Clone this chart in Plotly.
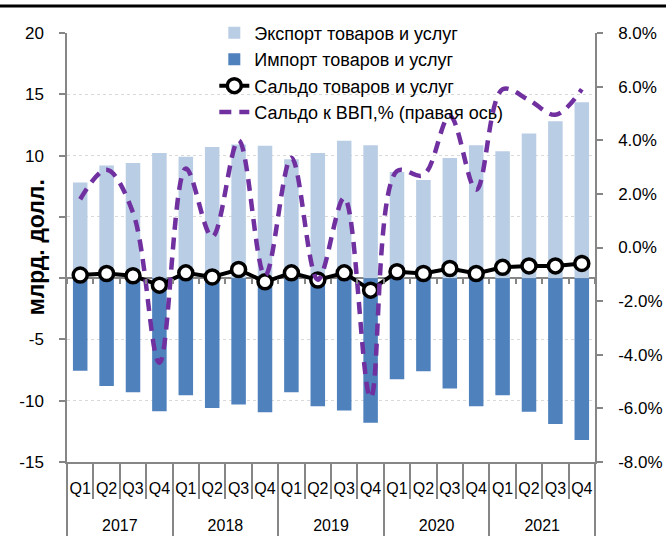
import plotly.graph_objects as go

years = ["2017", "2018", "2019", "2020", "2021"]
quarters = ["Q1", "Q2", "Q3", "Q4"]

export_vals = [7.8, 9.2, 9.4, 10.2, 9.9, 10.7, 10.9, 10.8, 9.7, 10.2, 11.2, 10.85,
               8.65, 8.0, 9.8, 10.85, 10.35, 11.8, 12.8, 14.35]
import_vals = [-7.55, -8.8, -9.3, -10.85, -9.55, -10.6, -10.3, -10.95, -9.3, -10.45, -10.8, -11.8,
               -8.25, -7.6, -9.0, -10.45, -9.55, -10.9, -11.9, -13.2]
balance_vals = [0.25, 0.38, 0.19, -0.57, 0.43, 0.1, 0.7, -0.3, 0.43, -0.15, 0.43, -0.98,
                0.52, 0.38, 0.79, 0.38, 0.88, 1.0, 1.0, 1.2]
balance_gdp_pct = [1.8, 2.9, 1.3, -4.3, 2.95, 0.4, 4.0, -1.05, 3.35, -1.2, 1.85, -5.6,
                   2.85, 2.7, 4.9, 2.15, 5.9, 5.5, 4.95, 5.9]

left_ticks = [20, 15, 10, 5, 0, -5, -10, -15]
left_ticktext = ["20", "15", "10", "5", "0", "-5", "-10", "-15"]
right_ticks = [8, 6, 4, 2, 0, -2, -4, -6, -8]
right_ticktext = ["8.0%", "6.0%", "4.0%", "2.0%", "0.0%", "-2.0%", "-4.0%", "-6.0%", "-8.0%"]

names = ["Экспорт товаров и услуг", "Импорт товаров и услуг",
         "Сальдо товаров и услуг", "Сальдо к ВВП,% (правая ось)"]

# category keys and label levels
x_keys = [f"{q} {y}" for y in years for q in quarters]
x_q = [q for _ in years for q in quarters]
nq = len(quarters)
n = len(x_keys)
boundaries = [i - 0.5 for i in range(n + 1)]
year_centers = [i * nq + (nq - 1) / 2 for i in range(len(years))]
year_bounds = [i * nq - 0.5 for i in range(len(years) + 1)]

FONT = "Liberation Sans, Arial, sans-serif"
AX = "#868686"
CLEAR = "rgba(0,0,0,0)"

fig = go.Figure()
fig.add_trace(go.Bar(x=x_keys, y=export_vals, name=names[0], marker_color="#B9CDE5",
                     width=0.55, marker_line_width=0))
fig.add_trace(go.Bar(x=x_keys, y=import_vals, name=names[1], marker_color="#4F81BD",
                     width=0.55, marker_line_width=0))
fig.add_trace(go.Scatter(x=x_keys, y=balance_vals, name=names[2], mode="lines+markers",
                         line=dict(color="black", width=4),
                         marker=dict(symbol="circle", size=14, color="white",
                                     line=dict(color="black", width=3.5))))
fig.add_trace(go.Scatter(x=x_keys, y=balance_gdp_pct, name=names[3], mode="lines", yaxis="y2",
                         line=dict(color="#7030A0", width=4.5, dash="12px,8px",
                                   shape="spline", smoothing=1.0)))

# invisible helper traces so that the overlay axes (zero ticks, separators, year labels) are drawn
for ax_name, xs in [("x2", boundaries), ("x3", boundaries), ("x4", year_centers), ("x5", year_bounds)]:
    fig.add_trace(go.Scatter(x=xs, y=[0] * len(xs), xaxis=ax_name, yaxis="y", mode="markers",
                             marker=dict(opacity=0, size=1), showlegend=False, hoverinfo="skip"))

fig.update_layout(
    width=666, height=543,
    margin=dict(l=67, r=71, t=33, b=81, autoexpand=False),
    paper_bgcolor="white", plot_bgcolor="white",
    barmode="overlay",
    font=dict(family=FONT, size=16, color="black"),
    showlegend=True,
    legend=dict(x=0.279, y=0.973, xref="paper", yref="container", xanchor="left", yanchor="top",
                bgcolor=CLEAR, font=dict(size=18), tracegroupgap=0, itemwidth=30),
    # quarter labels
    xaxis=dict(type="category", range=[-0.5, n - 0.5], tickvals=x_keys, ticktext=x_q,
               tickangle=0, showgrid=False, zeroline=False,
               showline=True, linecolor=AX, linewidth=1.5,
               ticks="outside", ticklen=11, tickcolor=CLEAR, tickfont=dict(size=16)),
    # small ticks along the zero line
    xaxis2=dict(overlaying="x", anchor="free", position=15 / 35, type="linear",
                range=[-0.5, n - 0.5], showline=False,
                ticks="outside", ticklen=5, tickcolor=AX, tickwidth=1.5,
                tickvals=boundaries, showticklabels=False, showgrid=False, zeroline=False),
    # quarter separators
    xaxis3=dict(overlaying="x", anchor="y", side="bottom", type="linear",
                range=[-0.5, n - 0.5], showline=False,
                ticks="outside", ticklen=36, tickcolor=AX, tickwidth=1.5,
                tickvals=boundaries, showticklabels=False, showgrid=False, zeroline=False),
    # year labels
    xaxis4=dict(overlaying="x", anchor="y", side="bottom", type="linear",
                range=[-0.5, n - 0.5], showline=False,
                ticks="outside", ticklen=49, tickcolor=CLEAR,
                tickvals=year_centers, ticktext=years, tickangle=0,
                showgrid=False, zeroline=False, tickfont=dict(size=16)),
    # year separators
    xaxis5=dict(overlaying="x", anchor="y", side="bottom", type="linear",
                range=[-0.5, n - 0.5], showline=False,
                ticks="outside", ticklen=73, tickcolor=AX, tickwidth=1.5,
                tickvals=year_bounds, showticklabels=False, showgrid=False, zeroline=False),
    yaxis=dict(range=[-15, 20], tickvals=left_ticks, ticktext=left_ticktext,
               showline=True, linecolor=AX, linewidth=1.5,
               ticks="outside", ticklen=6, tickcolor=AX, tickwidth=1.5,
               ticklabelstandoff=12,
               showgrid=True, gridcolor="#D9D9D9", griddash="3px,3px", gridwidth=1,
               zeroline=True, zerolinecolor=AX, zerolinewidth=1.5,
               tickfont=dict(size=17)),
    yaxis2=dict(range=[-8, 8], tickvals=right_ticks, ticktext=right_ticktext,
                overlaying="y", side="right", anchor="x",
                showline=True, linecolor=AX, linewidth=1.5,
                ticks="outside", ticklen=6, tickcolor=AX, tickwidth=1.5,
                ticklabelstandoff=12,
                showgrid=False, zeroline=False, tickfont=dict(size=17)),
    annotations=[dict(text="<b>млрд. долл.</b>", textangle=-90, xref="paper", yref="paper",
                      x=-0.059, y=0.5, xanchor="center", yanchor="middle",
                      showarrow=False, bgcolor="white",
                      font=dict(size=23, family=FONT))],
    shapes=[dict(type="line", xref="paper", yref="paper", x0=-67 / 528, x1=(666 - 67) / 528,
                 y0=1.063, y1=1.063, line=dict(color="black", width=3))],
)

fig.write_html("out.html", config={"displayModeBar": False},
               post_script="document.body.style.margin='0';")
